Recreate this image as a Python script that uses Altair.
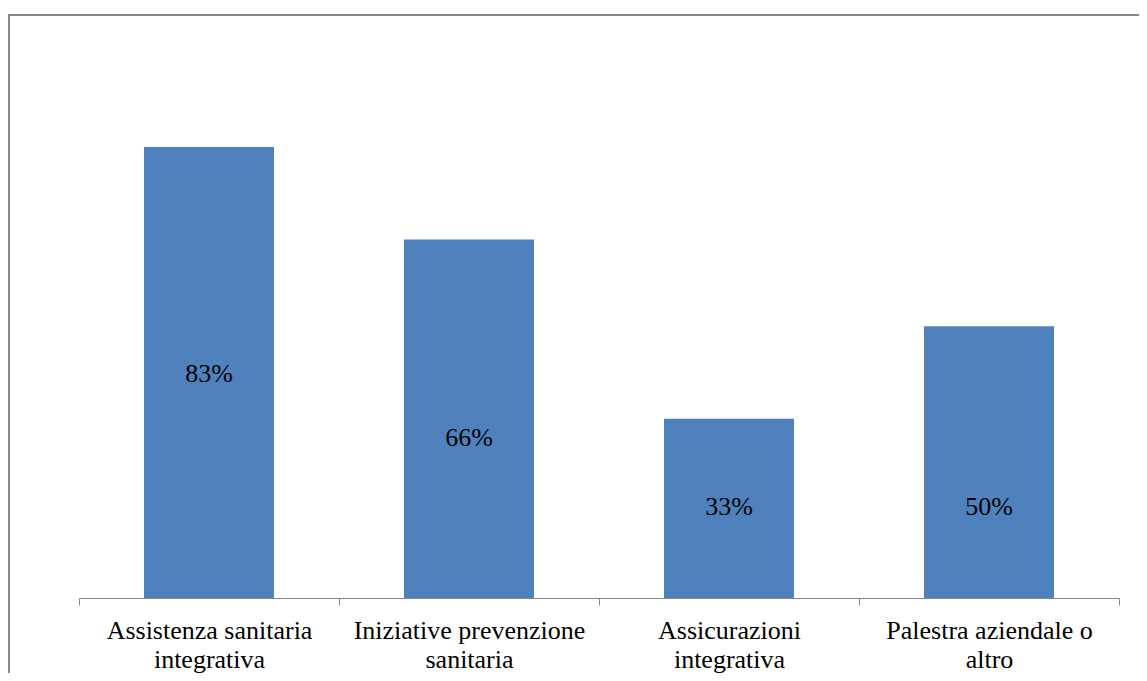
import altair as alt
import pandas as pd

categories = [
    "Assistenza sanitaria\nintegrativa",
    "Iniziative prevenzione\nsanitaria",
    "Assicurazioni\nintegrativa",
    "Palestra aziendale o\naltro",
]
values = [83, 66, 33, 50]
value_labels = ["83%", "66%", "33%", "50%"]
label_anchor = [41.2, 29.4, 16.7, 16.7]

SERIF = "Liberation Serif, Times New Roman, serif"

df = pd.DataFrame({"cat": categories, "val": values, "lbl": value_labels, "anchor": label_anchor})

x = alt.X("cat:N", sort=None, title=None,
          scale=alt.Scale(paddingInner=0, paddingOuter=0),
          axis=alt.Axis(labelAngle=0, tickBand="extent", labelExpr="split(datum.label, '\\n')",
                        labelFont=SERIF, labelFontSize=26, labelColor="#000000",
                        labelLineHeight=29, labelPadding=12, tickSize=7, labelLimit=0,
                        domainColor="#868686", tickColor="#868686", labelBaseline="top"))
y_scale = alt.Scale(domain=[0, 90])

border = alt.Chart(pd.DataFrame({"k": [0]})).mark_rect(
    fill=None, stroke="#888888", strokeWidth=2
).encode(x=alt.value(-70), x2=alt.value(1100), y=alt.value(-94), y2=alt.value(700))

bars = alt.Chart(df).mark_bar(color="#4F81BD", width=alt.RelativeBandSize(0.5)).encode(
    x=x,
    y=alt.Y("val:Q", scale=y_scale, axis=None),
)

labels = alt.Chart(df).mark_text(font=SERIF, fontSize=26, color="#000000",
                                 baseline="middle").encode(
    x=x,
    y=alt.Y("anchor:Q", scale=y_scale, axis=None),
    text="lbl:N",
)

chart = alt.layer(border, bars, labels).properties(
    width=1040, height=489,
    autosize=alt.AutoSizeParams(type="none"),
    padding={"left": 71, "top": 101, "right": 20, "bottom": 75},
).configure(background="white", font=SERIF).configure_view(stroke=None, strokeWidth=0)

chart.save("out.html", embed_options={"renderer": "svg", "actions": False})
